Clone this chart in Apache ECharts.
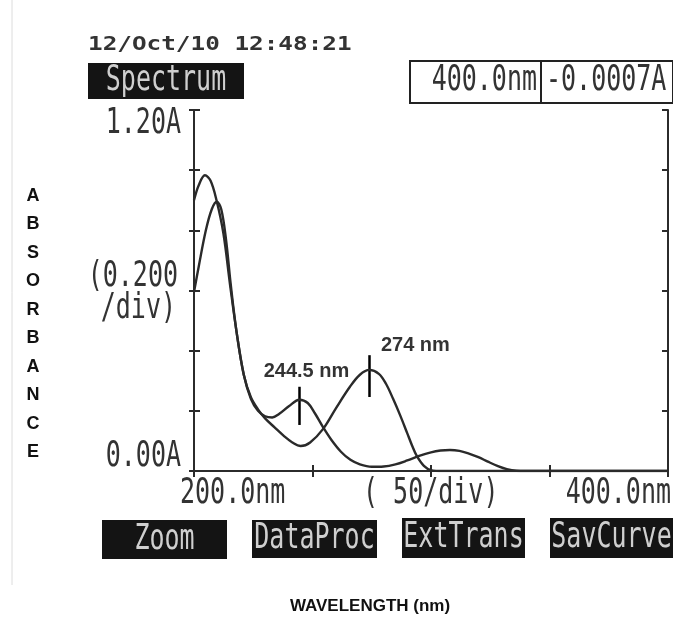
<!DOCTYPE html>
<html>
<head>
<meta charset="utf-8">
<script src="https://cdn.jsdelivr.net/npm/echarts@6/dist/echarts.min.js"></script>
<style>html,body{margin:0;padding:0;background:#fff;}#c{width:673px;height:623px;}</style>
</head>
<body>
<div id="c"></div>
<script>
// ---- data ----
const wl1 = [200,202,204.6,207,209.5,212.4,215.2,218,221,224,227,230,233,236,240,244.5,248,251,254.5,258,262,266,270,275,280,285,290,295,300,304,308,312,316,320,324,328,332,336,345,360,380,400];
const abs1 = [0.90,0.95,0.983,0.965,0.90,0.79,0.62,0.46,0.32,0.24,0.20,0.182,0.178,0.19,0.215,0.237,0.226,0.192,0.145,0.103,0.064,0.037,0.022,0.014,0.015,0.022,0.035,0.05,0.062,0.068,0.07,0.067,0.058,0.046,0.031,0.017,0.006,0.001,0,0,0,0];
const wl2 = [200,202,205,207.5,209.6,211.5,213.5,215.5,218,221,224,227,230,234,238,241.5,245,249,254.5,260,265.8,270,274,278,281,284,287,290,292,294,297,300,305,320,360,400];
const abs2 = [0.595,0.68,0.80,0.87,0.895,0.87,0.77,0.62,0.46,0.32,0.245,0.205,0.175,0.145,0.116,0.095,0.083,0.095,0.14,0.21,0.28,0.32,0.336,0.323,0.29,0.24,0.185,0.125,0.085,0.05,0.017,0.003,0,0,0,0];
const markerWl = [244.5, 274];
const markerLow = [0.153, 0.246];
const markerHigh = [0.28, 0.385];
const markerText = ['244.5 nm', '274 nm'];

const chart = echarts.init(document.getElementById('c'), null, {renderer: 'canvas'});
const ink = '#2b2b2b';
const lcd = {font: '20px "DejaVu Sans Mono"', sx: 1.25, sy: 1.75, fill: '#333'};

function T(x, y, text, o) {
  o = o || {};
  const align = o.align || 'left';
  return {
    type: 'text', x: x, y: y, z: 100,
    scaleX: o.sx || 1, scaleY: o.sy || 1,
    style: {
      text: text, font: o.font || lcd.font, fill: o.fill || '#333',
      textAlign: align, align: align,
      textVerticalAlign: 'middle', verticalAlign: 'middle',
      lineHeight: o.lineHeight
    }
  };
}
function L(t, o) { return T(o.x, o.y, t, Object.assign({font: lcd.font, sx: lcd.sx, sy: lcd.sy}, o)); }
function R(x, y, w, h, fill, stroke) {
  return {type: 'rect', z: 90, shape: {x: x, y: y, width: w, height: h},
    style: {fill: fill, stroke: stroke || null, lineWidth: stroke ? 2 : 0}};
}

const buttons = [['Zoom', 102, 520, 125, 39], ['DataProc', 252, 520, 125, 38], ['ExtTrans', 402, 518, 123, 40], ['SavCurve', 550, 518, 123, 40]];
const graphics = [
  {type: 'line', z: 80, shape: {x1: 12, y1: 0, x2: 12, y2: 585}, style: {stroke: '#dcdcdc', lineWidth: 1}},
  T(88, 45, '12/Oct/10 12:48:21', {font: 'bold 19px "DejaVu Sans Mono"', sx: 1.28, sy: 1.05, fill: '#333'}),
  R(88, 63, 156, 36, '#141414'),
  L('Spectrum', {x: 166, y: 81, align: 'center', fill: '#cfcfcf'}),
  R(410, 61, 263, 42, '#fff', '#222'),
  {type: 'line', z: 95, shape: {x1: 541, y1: 61, x2: 541, y2: 103}, style: {stroke: '#222', lineWidth: 2}},
  L('400.0nm', {x: 537, y: 81, align: 'right'}),
  L('-0.0007A', {x: 546, y: 81}),
  L('1.20A', {x: 181, y: 124, align: 'right'}),
  L('(0.200', {x: 178, y: 277, align: 'right'}),
  L('/div)', {x: 176, y: 309, align: 'right'}),
  L('0.00A', {x: 181, y: 457, align: 'right'}),
  L('200.0nm', {x: 180, y: 494}),
  L('( 50/div)', {x: 363, y: 494}),
  L('400.0nm', {x: 671, y: 494, align: 'right'}),
  T(33, 324, 'A\nB\nS\nO\nR\nB\nA\nN\nC\nE', {font: 'bold 18px "Liberation Sans"', align: 'center', lineHeight: 28.5, fill: '#111'}),
  T(370, 606, 'WAVELENGTH (nm)', {font: 'bold 17px "Liberation Sans"', align: 'center', fill: '#111'})
];
buttons.forEach(function (b) {
  graphics.push(R(b[1], b[2], b[3], b[4], '#141414'));
  graphics.push(L(b[0], {x: b[1] + b[3] / 2, y: b[2] + b[4] / 2, align: 'center', fill: '#cfcfcf'}));
});

const axLine = {show: true, lineStyle: {color: ink, width: 2}};
const tickIn = {show: true, inside: true, length: 6, lineStyle: {color: ink, width: 2}};
const tickOut = {show: true, inside: false, length: 5, lineStyle: {color: ink, width: 2}};

const markerLines = markerWl.map(function (w, i) {
  return [{coord: [w, markerLow[i]]}, {coord: [w, markerHigh[i]]}];
});
const labelOffsets = [[7, -15], [46, -10]];
const curveStyle = {color: '#2a2a2a', width: 2.4};

chart.setOption({
  animation: false,
  backgroundColor: '#fff',
  grid: {left: 194, right: 5, top: 110, bottom: 152, show: false},
  xAxis: [
    {type: 'value', min: 200, max: 400, interval: 50, position: 'bottom', axisLine: axLine, axisTick: tickIn, axisLabel: {show: false}, splitLine: {show: false}},
    {type: 'value', min: 200, max: 400, interval: 50, position: 'top', axisLine: axLine, axisTick: tickIn, axisLabel: {show: false}, splitLine: {show: false}}
  ],
  yAxis: [
    {type: 'value', min: 0, max: 1.2, interval: 0.2, position: 'left', axisLine: axLine, axisTick: tickIn, axisLabel: {show: false}, splitLine: {show: false}},
    {type: 'value', min: 0, max: 1.2, interval: 0.2, position: 'right', axisLine: axLine, axisTick: tickIn, axisLabel: {show: false}, splitLine: {show: false}},
    {type: 'value', min: 0, max: 1.2, interval: 0.2, position: 'left', offset: 0, axisLine: {show: false}, axisTick: tickOut, axisLabel: {show: false}, splitLine: {show: false}}
  ],
  series: [
    {type: 'line', data: wl1.map(function (w, i) { return [w, abs1[i]]; }), smooth: 0.35, showSymbol: false, lineStyle: curveStyle, z: 5},
    {type: 'line', data: wl2.map(function (w, i) { return [w, abs2[i]]; }), smooth: 0.35, showSymbol: false, lineStyle: curveStyle, z: 5,
      markLine: {silent: true, symbol: ['none', 'none'], label: {show: false}, lineStyle: {color: '#000', width: 2.5, type: 'solid'}, data: markerLines}},
    {type: 'scatter', symbolSize: 0, z: 20,
      data: markerWl.map(function (w, i) {
        return {value: [w, markerHigh[i]], label: {show: true, formatter: markerText[i], position: labelOffsets[i], align: 'center', verticalAlign: 'middle',
          fontFamily: 'Liberation Sans', fontWeight: 'bold', fontSize: 20, color: '#000'}};
      })}
  ],
  graphic: graphics
});
</script>
</body>
</html>
